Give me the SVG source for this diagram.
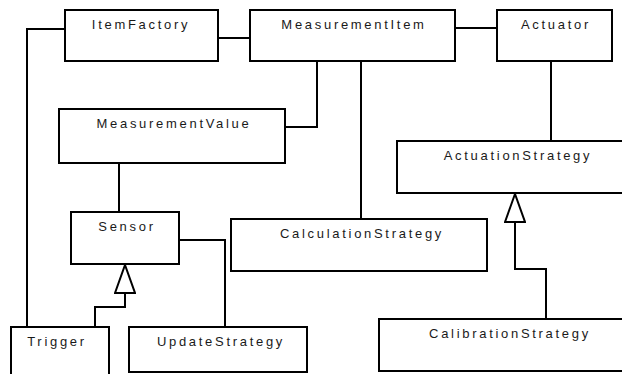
<svg xmlns="http://www.w3.org/2000/svg" width="622" height="374" viewBox="0 0 622 374">
  <style>
    .box { fill: #ffffff; stroke: #000000; stroke-width: 2; }
    .lbl { font-family: "Liberation Sans", Arial, sans-serif; font-size: 13px; letter-spacing: 2.7px; fill: #1a1a1a; text-anchor: middle; }
    .edge { fill: none; stroke: #000000; stroke-width: 2; }
  </style>
  <defs>
    <!-- hollow triangle head for generalization -->
    <marker id="gen" viewBox="0 0 30 22" refX="30" refY="11" markerWidth="30" markerHeight="22" markerUnits="userSpaceOnUse" orient="auto">
      <path d="M1,1 L29,11 L1,21 Z" fill="#ffffff" stroke="#000000" stroke-width="2"/>
    </marker>
  </defs>
  <rect x="0" y="0" width="622" height="374" fill="#ffffff"/>

  <g id="connectors">
    <path class="edge" d="M65 29 H27 V327"/>
    <path class="edge" d="M218 38 H250"/>
    <path class="edge" d="M455 28 H497"/>
    <path class="edge" d="M317 61 V127 H285"/>
    <path class="edge" d="M361 61 V219"/>
    <path class="edge" d="M551 61 V141"/>
    <path class="edge" d="M119 163 V212"/>
    <path class="edge" d="M179 240 H225 V327"/>
    <path class="edge" d="M95 327 V307 H125 V264" marker-end="url(#gen)"/>
    <path class="edge" d="M546 319 V269 H515 V193" marker-end="url(#gen)"/>
  </g>

  <g id="ItemFactory">
    <rect class="box" x="65" y="10" width="153" height="51"/>
    <text class="lbl" x="141" y="29">ItemFactory</text>
  </g>
  <g id="MeasurementItem">
    <rect class="box" x="250" y="10" width="205" height="51"/>
    <text class="lbl" x="354" y="29">MeasurementItem</text>
  </g>
  <g id="Actuator">
    <rect class="box" x="497" y="10" width="115" height="51"/>
    <text class="lbl" x="556" y="29">Actuator</text>
  </g>
  <g id="MeasurementValue">
    <rect class="box" x="59" y="109" width="226" height="54"/>
    <text class="lbl" x="174" y="128">MeasurementValue</text>
  </g>
  <g id="ActuationStrategy">
    <rect class="box" x="397" y="141" width="230" height="52"/>
    <text class="lbl" x="518" y="160">ActuationStrategy</text>
  </g>
  <g id="CalculationStrategy">
    <rect class="box" x="231" y="219" width="256" height="52"/>
    <text class="lbl" x="362" y="238">CalculationStrategy</text>
  </g>
  <g id="Sensor">
    <rect class="box" x="71" y="212" width="108" height="52"/>
    <text class="lbl" x="127" y="231">Sensor</text>
  </g>
  <g id="Trigger">
    <rect class="box" x="11" y="327" width="98" height="52"/>
    <text class="lbl" x="57" y="346">Trigger</text>
  </g>
  <g id="UpdateStrategy">
    <rect class="box" x="129" y="327" width="178" height="45"/>
    <text class="lbl" x="221" y="346">UpdateStrategy</text>
  </g>
  <g id="CalibrationStrategy">
    <rect class="box" x="379" y="319" width="250" height="52"/>
    <text class="lbl" x="510" y="338">CalibrationStrategy</text>
  </g>
</svg>
